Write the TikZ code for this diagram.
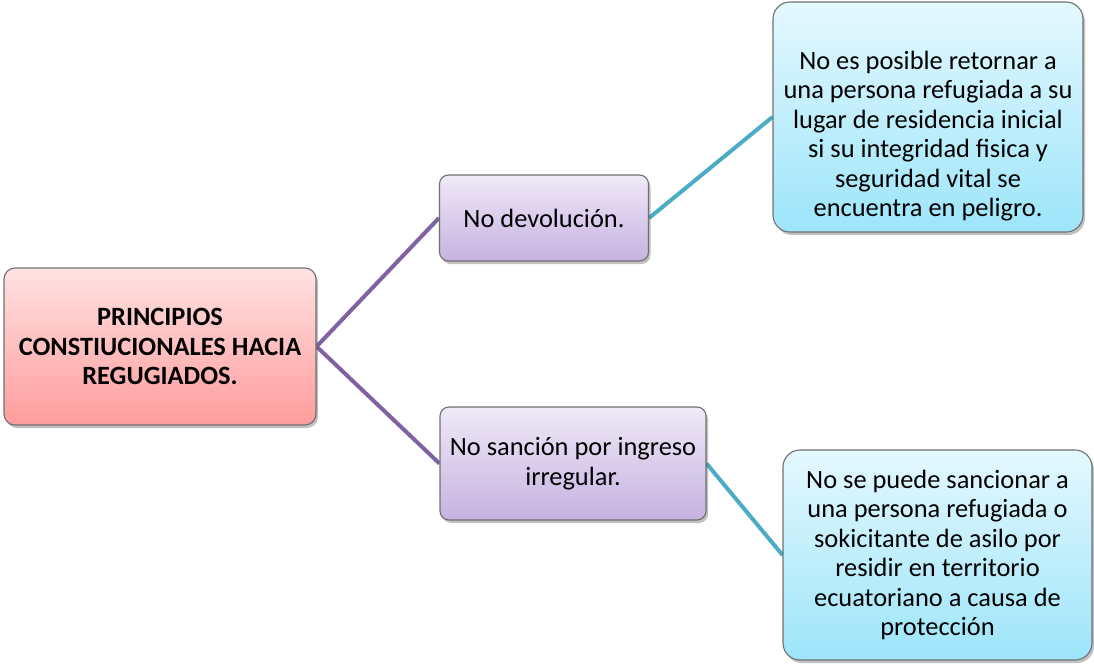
\documentclass[tikz,border=0pt]{standalone}
\usepackage{fontspec}
\setmainfont{Carlito}
\usetikzlibrary{shadows,backgrounds}
\definecolor{pinktop}{HTML}{FFE2E2}
\definecolor{pinkbot}{HTML}{FF9C9C}
\definecolor{purtop}{HTML}{EFE9F7}
\definecolor{purbot}{HTML}{C6B2E1}
\definecolor{cyantop}{HTML}{E4F8FE}
\definecolor{cyanbot}{HTML}{9DE5FA}
\definecolor{edgegray}{HTML}{707070}
\definecolor{purline}{HTML}{7F62A1}
\definecolor{cyanline}{HTML}{4BACC6}
\tikzset{
  boxbase/.style={draw=edgegray, line width=1.1pt, inner sep=0pt, align=center,
    font=\fontsize{26.4}{29.5}\selectfont,
    drop shadow={shadow xshift=2pt, shadow yshift=-3pt, opacity=0.35, fill=black!70}},
  rootbox/.style={boxbase, rounded corners=11pt, top color=pinktop, bottom color=pinkbot},
  midbox/.style={boxbase, rounded corners=9pt, top color=purtop, bottom color=purbot},
  leafbox/.style={boxbase, rounded corners=17pt, top color=cyantop, bottom color=cyanbot},
  txt/.style={inner sep=0pt, align=center, font=\fontsize{26.4}{29.5}\selectfont},
  purconn/.style={draw=purline, line width=4pt},
  cyanconn/.style={draw=cyanline, line width=4pt}
}
\begin{document}
\begin{tikzpicture}[x=1pt,y=-1pt]
\useasboundingbox (0,0) rectangle (1094,664);
\node[rootbox, minimum width=312pt, minimum height=157pt] (root) at (160,346.5)
  {\bfseries PRINCIPIOS\\\bfseries CONSTIUCIONALES HACIA\\\bfseries REGUGIADOS.};
\node[midbox, minimum width=209pt, minimum height=86pt] (nodev) at (544,218)
  {No devolución.};
\node[midbox, minimum width=266pt, minimum height=113pt] (nosanc) at (573,463.5)
  {No sanción por ingreso\\irregular.};
\node[leafbox, minimum width=310pt, minimum height=230pt] (tr) at (928,117) {};
\node[txt] (trtext) at (928,136)
  {No es posible retornar a\\una persona refugiada a su\\lugar de residencia inicial\\si su integridad fisica y\\seguridad vital se\\encuentra en peligro.};
\node[leafbox, minimum width=309pt, minimum height=210pt] (br) at (937.5,555)
  {No se puede sancionar a\\una persona refugiada o\\sokicitante de asilo por\\residir en territorio\\ecuatoriano a causa de\\protección};
\begin{scope}[on background layer]
\draw[purconn] (root.east) -- (nodev.west);
\draw[purconn] (root.east) -- (nosanc.west);
\draw[cyanconn] (nodev.east) -- (tr.west);
\draw[cyanconn] (nosanc.east) -- (br.west);
\end{scope}
\end{tikzpicture}
\end{document}
